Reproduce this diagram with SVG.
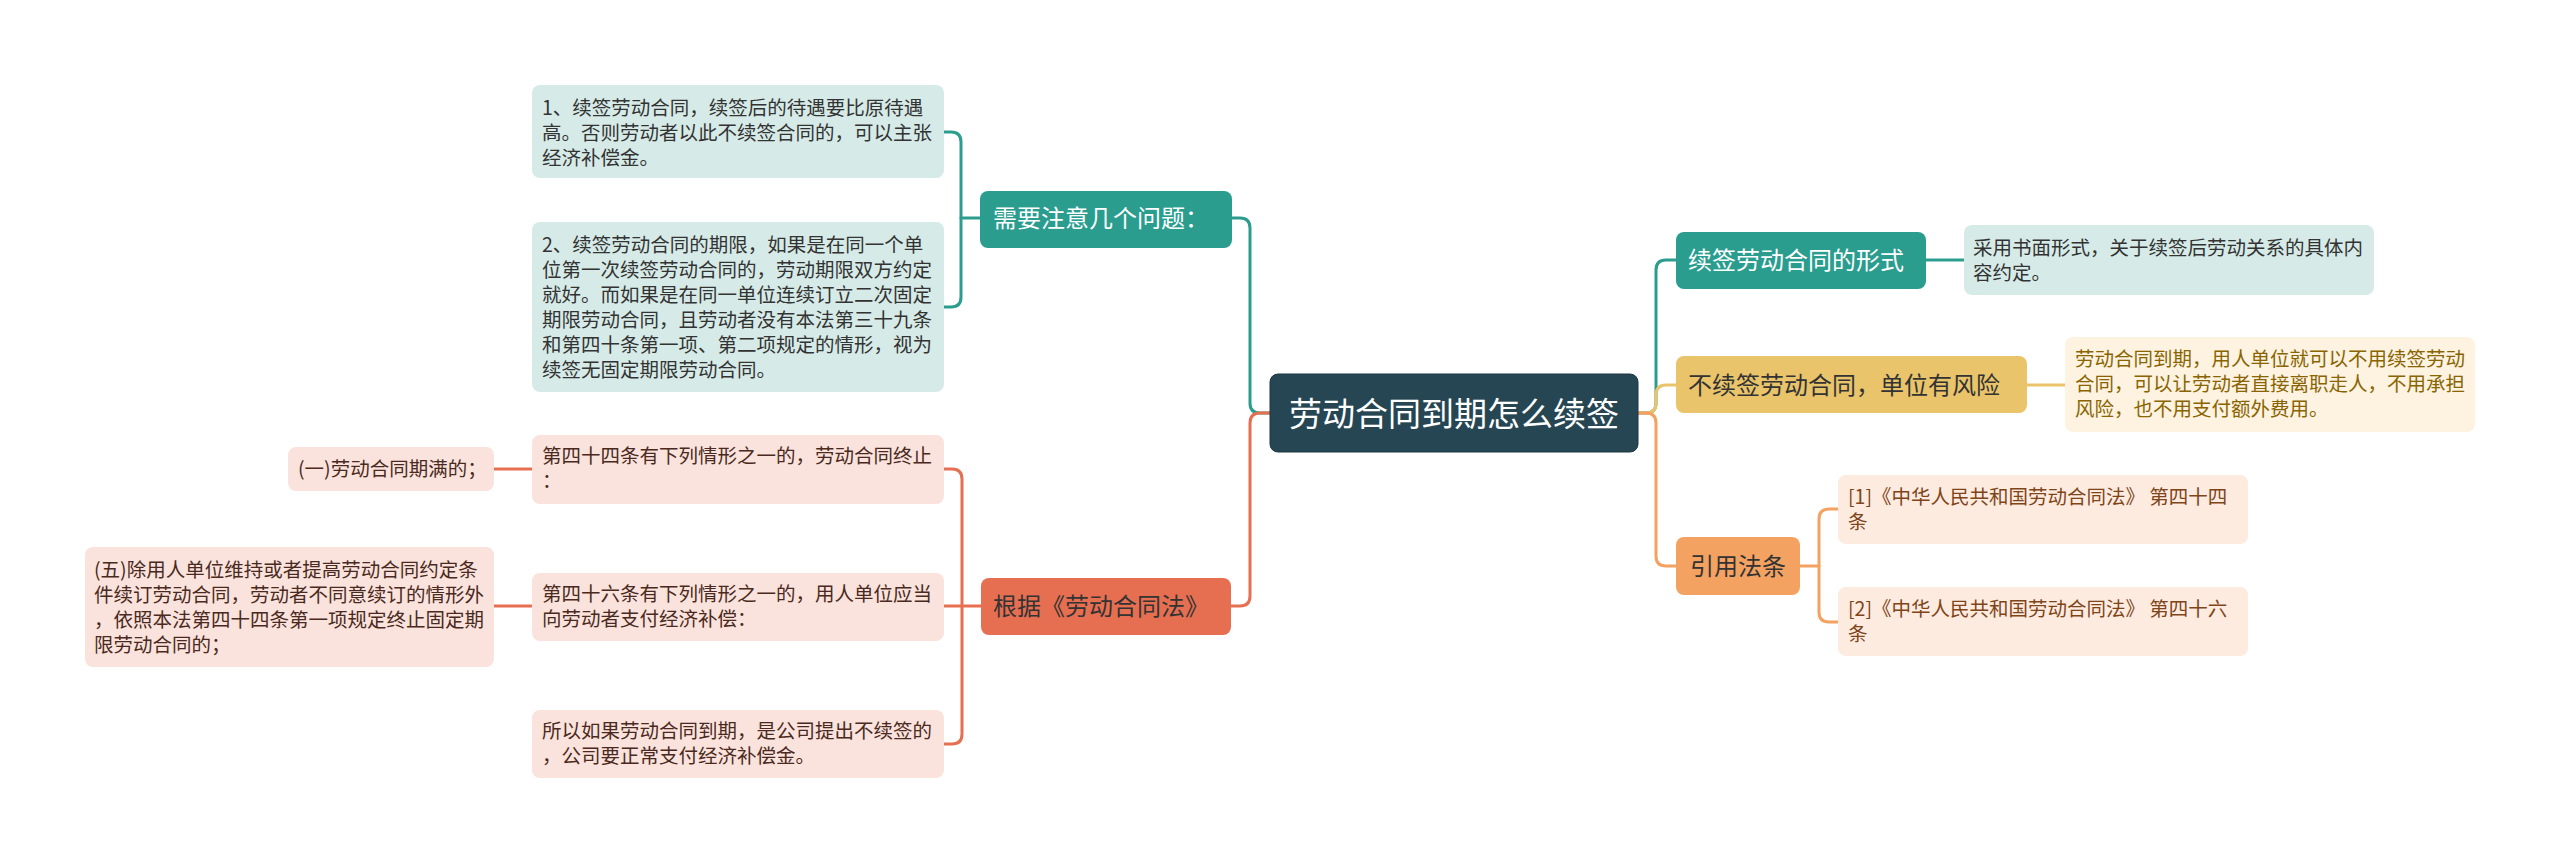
<svg xmlns="http://www.w3.org/2000/svg" width="2560" height="863" viewBox="0 0 2560 863">
<style>
text{font-family:"Noto Sans CJK SC","Noto Sans",sans-serif;}
.c{fill:none;stroke-width:3;stroke-linecap:round;stroke-linejoin:round;}
.teal{stroke:#2a9d8f;}
.red{stroke:#e76f51;}
.yel{stroke:#e9c46a;}
.org{stroke:#f4a261;}
.leaf{font-size:19.5px;}
.l1{font-size:24px;}
</style>
<rect width="2560" height="863" fill="#ffffff"/>
<g id="connectors">
<path class="c teal" d="M1270,413 H1260 Q1250,413 1250,403 V228 Q1250,218 1240,218 H1232"/>
<path class="c red" d="M1270,413 H1260 Q1250,413 1250,423 V596 Q1250,606 1240,606 H1231"/>
<path class="c teal" d="M980,218 H961"/>
<path class="c teal" d="M944,132 H951 Q961,132 961,142 V297 Q961,307 951,307 H944"/>
<path class="c red" d="M981,606 H944"/>
<path class="c red" d="M944,469 H952 Q962,469 962,479 V734 Q962,744 952,744 H944"/>
<path class="c red" d="M532,469 H494"/>
<path class="c red" d="M532,606 H494"/>
<path class="c teal" d="M1638,413 H1646 Q1656,413 1656,403 V270 Q1656,260 1666,260 H1676"/>
<path class="c yel" d="M1638,413 H1646 Q1656,413 1656,403 V395 Q1656,385 1666,385 H1676"/>
<path class="c org" d="M1638,413 H1646 Q1656,413 1656,423 V556 Q1656,566 1666,566 H1676"/>
<path class="c teal" d="M1926,260 H1964"/>
<path class="c yel" d="M2027,385 H2065"/>
<path class="c org" d="M1800,566 H1819"/>
<path class="c org" d="M1838,509 H1829 Q1819,509 1819,519 V612 Q1819,622 1829,622 H1838"/>
</g>
<g id="root">
<rect x="1270" y="374" width="368" height="78" rx="8" fill="#264653" stroke="#1d3640" stroke-width="1"/>
<text x="1454" y="426" font-size="33" fill="#ffffff" text-anchor="middle">劳动合同到期怎么续签</text>
</g>
<g id="n-attention">
<rect x="980" y="191" width="252" height="57" rx="8" fill="#2a9d8f"/>
<text x="993" y="227" class="l1" fill="#ffffff">需要注意几个问题：</text>
</g>
<g id="n-att1">
<rect x="532" y="85" width="412" height="93" rx="8" fill="#d6ebe8"/>
<text class="leaf" fill="#333333"><tspan x="542" y="115">1、续签劳动合同，续签后的待遇要比原待遇</tspan><tspan x="542" y="140">高。否则劳动者以此不续签合同的，可以主张</tspan><tspan x="542" y="165">经济补偿金。</tspan></text>
</g>
<g id="n-att2">
<rect x="532" y="222" width="412" height="170" rx="8" fill="#d6ebe8"/>
<text class="leaf" fill="#333333"><tspan x="542" y="252">2、续签劳动合同的期限，如果是在同一个单</tspan><tspan x="542" y="277">位第一次续签劳动合同的，劳动期限双方约定</tspan><tspan x="542" y="302">就好。而如果是在同一单位连续订立二次固定</tspan><tspan x="542" y="327">期限劳动合同，且劳动者没有本法第三十九条</tspan><tspan x="542" y="352">和第四十条第一项、第二项规定的情形，视为</tspan><tspan x="542" y="377">续签无固定期限劳动合同。</tspan></text>
</g>
<g id="n-law">
<rect x="981" y="578" width="250" height="57" rx="8" fill="#e76f51"/>
<text x="993" y="615" class="l1" fill="#333333">根据《劳动合同法》</text>
</g>
<g id="n-law44">
<rect x="532" y="435" width="412" height="69" rx="8" fill="#fbe3dd"/>
<text class="leaf" fill="#4a2a20"><tspan x="542" y="463">第四十四条有下列情形之一的，劳动合同终止</tspan><tspan x="542" y="488">：</tspan></text>
</g>
<g id="n-law44-1">
<rect x="288" y="447" width="206" height="44" rx="8" fill="#fbe3dd"/>
<text x="298" y="476" class="leaf" fill="#4a2a20">(一)劳动合同期满的；</text>
</g>
<g id="n-law46">
<rect x="532" y="573" width="412" height="68" rx="8" fill="#fbe3dd"/>
<text class="leaf" fill="#4a2a20"><tspan x="542" y="601">第四十六条有下列情形之一的，用人单位应当</tspan><tspan x="542" y="626">向劳动者支付经济补偿：</tspan></text>
</g>
<g id="n-law46-5">
<rect x="85" y="547" width="409" height="120" rx="8" fill="#fbe3dd"/>
<text class="leaf" fill="#4a2a20"><tspan x="94" y="577">(五)除用人单位维持或者提高劳动合同约定条</tspan><tspan x="94" y="602">件续订劳动合同，劳动者不同意续订的情形外</tspan><tspan x="94" y="627">，依照本法第四十四条第一项规定终止固定期</tspan><tspan x="94" y="652">限劳动合同的；</tspan></text>
</g>
<g id="n-so">
<rect x="532" y="710" width="412" height="68" rx="8" fill="#fbe3dd"/>
<text class="leaf" fill="#4a2a20"><tspan x="542" y="738">所以如果劳动合同到期，是公司提出不续签的</tspan><tspan x="542" y="763">，公司要正常支付经济补偿金。</tspan></text>
</g>
<g id="n-form">
<rect x="1676" y="232" width="250" height="57" rx="8" fill="#2a9d8f"/>
<text x="1688" y="269" class="l1" fill="#ffffff">续签劳动合同的形式</text>
</g>
<g id="n-form-1">
<rect x="1964" y="225" width="410" height="70" rx="8" fill="#d6ebe8"/>
<text class="leaf" fill="#333333"><tspan x="1973" y="255">采用书面形式，关于续签后劳动关系的具体内</tspan><tspan x="1973" y="280">容约定。</tspan></text>
</g>
<g id="n-risk">
<rect x="1676" y="356" width="351" height="57" rx="8" fill="#e9c46a"/>
<text x="1688" y="394" class="l1" fill="#333333">不续签劳动合同，单位有风险</text>
</g>
<g id="n-risk-1">
<rect x="2065" y="337" width="410" height="95" rx="8" fill="#fdf3e0"/>
<text class="leaf" fill="#8a6400"><tspan x="2075" y="366">劳动合同到期，用人单位就可以不用续签劳动</tspan><tspan x="2075" y="391">合同，可以让劳动者直接离职走人，不用承担</tspan><tspan x="2075" y="416">风险，也不用支付额外费用。</tspan></text>
</g>
<g id="n-cite">
<rect x="1676" y="537" width="124" height="58" rx="8" fill="#f4a261"/>
<text x="1738" y="575" class="l1" fill="#333333" text-anchor="middle">引用法条</text>
</g>
<g id="n-cite-1">
<rect x="1838" y="475" width="410" height="69" rx="8" fill="#fdebe0"/>
<text class="leaf" fill="#7f4418"><tspan x="1848" y="504">[1]《中华人民共和国劳动合同法》 第四十四</tspan><tspan x="1848" y="529">条</tspan></text>
</g>
<g id="n-cite-2">
<rect x="1838" y="587" width="410" height="69" rx="8" fill="#fdebe0"/>
<text class="leaf" fill="#7f4418"><tspan x="1848" y="616">[2]《中华人民共和国劳动合同法》 第四十六</tspan><tspan x="1848" y="641">条</tspan></text>
</g>
</svg>
